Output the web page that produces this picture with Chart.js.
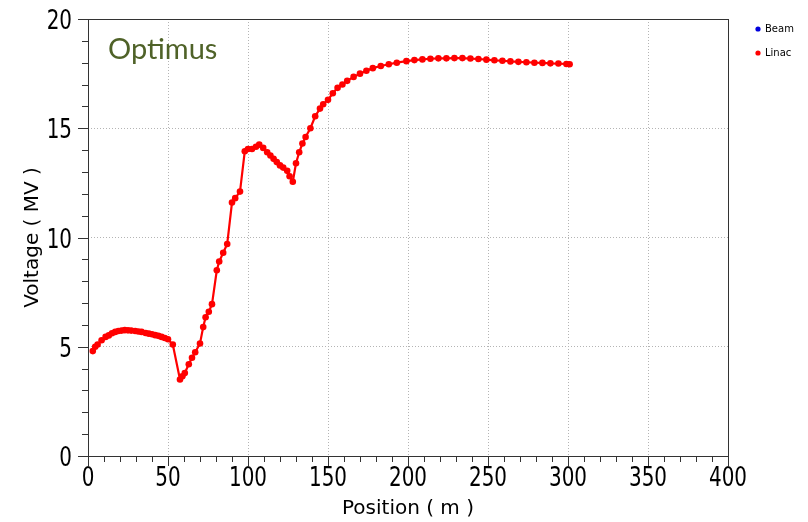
<!DOCTYPE html>
<html>
<head>
<meta charset="utf-8">
<script src="https://cdn.jsdelivr.net/npm/chart.js@4.4.1/dist/chart.umd.min.js"></script>
<style>
  html, body { margin: 0; padding: 0; background: #ffffff; }
  #wrap { position: relative; width: 808px; height: 522px; }
</style>
</head>
<body>
<div id="wrap"><canvas id="c" width="808" height="522"></canvas></div>
<script>
// ---- data ----
const chartTitle = "Optimus";
const seriesNames = ["Beam", "Linac"];
const beamPosition = [];
const beamVoltage = [];
const linacPosition = [3, 4.5, 6, 8.5, 11, 13, 15, 17, 19, 21, 23, 25, 27, 29.5, 31.5, 33.5, 36, 38, 40, 42, 44, 46, 48, 50, 53,
  57.5, 59, 60.5, 63, 65, 67, 70, 72, 73.5, 75.5, 77.5, 80.5, 82, 84.5, 87, 90, 92, 95, 98, 100, 102.5, 105, 107, 109.5,
  112, 114, 116, 118, 120, 122, 124.5, 126, 128, 130, 132, 134, 136, 139, 142, 145, 147, 150, 153, 156, 159, 162, 166,
  170, 174, 178, 183, 188, 193, 199, 204, 209, 214, 219, 224, 229, 234, 239, 244, 249, 254, 259, 264, 269, 274, 279,
  284, 289, 294, 299, 301];
const linacVoltage = [4.8, 5.0, 5.1, 5.3, 5.45, 5.52, 5.62, 5.68, 5.72, 5.74, 5.76, 5.75, 5.74, 5.72, 5.7, 5.68, 5.63, 5.6, 5.57, 5.53, 5.5, 5.45, 5.4, 5.34, 5.1,
  3.5, 3.65, 3.8, 4.2, 4.5, 4.75, 5.15, 5.9, 6.35, 6.6, 6.95, 8.5, 8.9, 9.3, 9.7, 11.6, 11.8, 12.1, 13.95, 14.05, 14.05, 14.15, 14.25, 14.1,
  13.9, 13.75, 13.6, 13.45, 13.3, 13.2, 13.05, 12.8, 12.55, 13.4, 13.9, 14.3, 14.6, 15.0, 15.55, 15.9, 16.1, 16.3, 16.6, 16.85, 17.0, 17.17, 17.35,
  17.5, 17.63, 17.75, 17.85, 17.93, 18.0, 18.07, 18.12, 18.15, 18.18, 18.2, 18.2, 18.21, 18.21, 18.19, 18.17, 18.14, 18.11, 18.09, 18.06, 18.04, 18.02, 18.0,
  17.99, 17.97, 17.96, 17.94, 17.93];
const xAxisTitle = "Position ( m )";
const yAxisTitle = "Voltage ( MV )";
const xMajorTicks = [0, 50, 100, 150, 200, 250, 300, 350, 400];
const yMajorTicks = [0, 5, 10, 15, 20];

// ---- chart ----
const toPoints = (xs, ys) => xs.map((x, i) => ({ x: x, y: ys[i] }));
const tickFontCss = "27px 'DejaVu Sans Condensed', 'DejaVu Sans', sans-serif";
const titleFont = { family: "'DejaVu Sans', Verdana, sans-serif", size: 20 };

const framePlugin = {
  id: 'frameAndTicks',
  afterDraw(chart) {
    const ctx = chart.ctx, a = chart.chartArea;
    const xs = chart.scales.x, ys = chart.scales.y;
    ctx.save();
    ctx.strokeStyle = '#333333';
    ctx.lineWidth = 1;
    ctx.strokeRect(Math.round(a.left) + 0.5, Math.round(a.top) + 0.5, Math.round(a.right - a.left), Math.round(a.bottom - a.top));
    ctx.beginPath();
    ys.ticks.forEach(t => {
      const p = Math.round(ys.getPixelForValue(t.value)) + 0.5;
      const len = yMajorTicks.includes(t.value) ? 10 : 6;
      ctx.moveTo(a.left - len, p); ctx.lineTo(a.left, p);
    });
    xs.ticks.forEach(t => {
      const p = Math.round(xs.getPixelForValue(t.value)) + 0.5;
      const len = xMajorTicks.includes(t.value) ? 10 : 6;
      ctx.moveTo(p, a.bottom); ctx.lineTo(p, a.bottom + len);
    });
    ctx.stroke();
    // tick labels (narrow face)
    ctx.fillStyle = '#000000';
    ctx.font = tickFontCss;
    ctx.textBaseline = 'alphabetic';
    ys.ticks.forEach(t => {
      if (!yMajorTicks.includes(t.value)) return;
      const p = ys.getPixelForValue(t.value);
      ctx.save(); ctx.translate(a.left - 16, p + 10); ctx.scale(0.82, 1);
      ctx.textAlign = 'right'; ctx.fillText(String(t.value), 0, 0); ctx.restore();
    });
    xs.ticks.forEach(t => {
      if (!xMajorTicks.includes(t.value)) return;
      const p = xs.getPixelForValue(t.value);
      ctx.save(); ctx.translate(p, a.bottom + 30); ctx.scale(0.82, 1);
      ctx.textAlign = 'center'; ctx.fillText(String(t.value), 0, 0); ctx.restore();
    });
    // chart title inside plot
    ctx.fillStyle = '#4f6228';
    ctx.font = "29px Lato, 'Open Sans', sans-serif";
    ctx.textAlign = 'left';
    ctx.fillText(chartTitle, 108, 59);
    // legend
    ctx.font = "10px 'DejaVu Sans', Tahoma, sans-serif";
    ctx.textBaseline = 'middle';
    chart.data.datasets.forEach((ds, i) => {
      const y = 29 + 24 * i;
      ctx.fillStyle = ds.backgroundColor;
      ctx.beginPath(); ctx.arc(758, y, 2.6, 0, Math.PI * 2); ctx.fill();
      ctx.fillStyle = '#000000';
      ctx.fillText(ds.label, 765, y);
    });
    ctx.restore();
  }
};

const noPad = s => { s.paddingTop = 0; s.paddingBottom = 0; s.paddingLeft = 0; s.paddingRight = 0; };

new Chart(document.getElementById('c'), {
  type: 'scatter',
  data: {
    datasets: [
      { label: seriesNames[0], data: toPoints(beamPosition, beamVoltage), showLine: true,
        borderColor: '#0000dd', backgroundColor: '#0000dd', pointRadius: 3, borderWidth: 2 },
      { label: seriesNames[1], data: toPoints(linacPosition, linacVoltage), showLine: true,
        borderColor: '#ff0000', backgroundColor: '#ff0000', pointBorderWidth: 0, pointRadius: 3.3, borderWidth: 2.2 }
    ]
  },
  options: {
    responsive: false,
    animation: false,
    layout: { padding: { left: 0, right: 80, top: 19, bottom: 0 } },
    plugins: { legend: { display: false }, tooltip: { enabled: false }, title: { display: false } },
    scales: {
      x: {
        type: 'linear', min: 0, max: 400,
        afterFit(s) { s.height = 66; noPad(s); },
        ticks: { stepSize: 10, autoSkip: false, maxRotation: 0, display: false },
        grid: { drawTicks: false, lineWidth: 1,
          color: c => (c.tick && xMajorTicks.includes(c.tick.value) && c.tick.value !== 0 && c.tick.value !== 400) ? '#b4b4b4' : 'rgba(0,0,0,0)' },
        border: { display: false, dash: [1, 2] },
        title: { display: true, text: xAxisTitle, color: '#000', font: titleFont, padding: { top: 0, bottom: 1 } }
      },
      y: {
        type: 'linear', min: 0, max: 20,
        afterFit(s) { s.width = 88; noPad(s); },
        ticks: { stepSize: 1, autoSkip: false, display: false },
        grid: { drawTicks: false, lineWidth: 1,
          color: c => (c.tick && yMajorTicks.includes(c.tick.value) && c.tick.value !== 0 && c.tick.value !== 20) ? '#b4b4b4' : 'rgba(0,0,0,0)' },
        border: { display: false, dash: [1, 2] },
        title: { display: true, text: yAxisTitle, color: '#000', font: titleFont, padding: { top: 21, bottom: 0 } }
      }
    }
  },
  plugins: [framePlugin]
});
</script>
</body>
</html>
